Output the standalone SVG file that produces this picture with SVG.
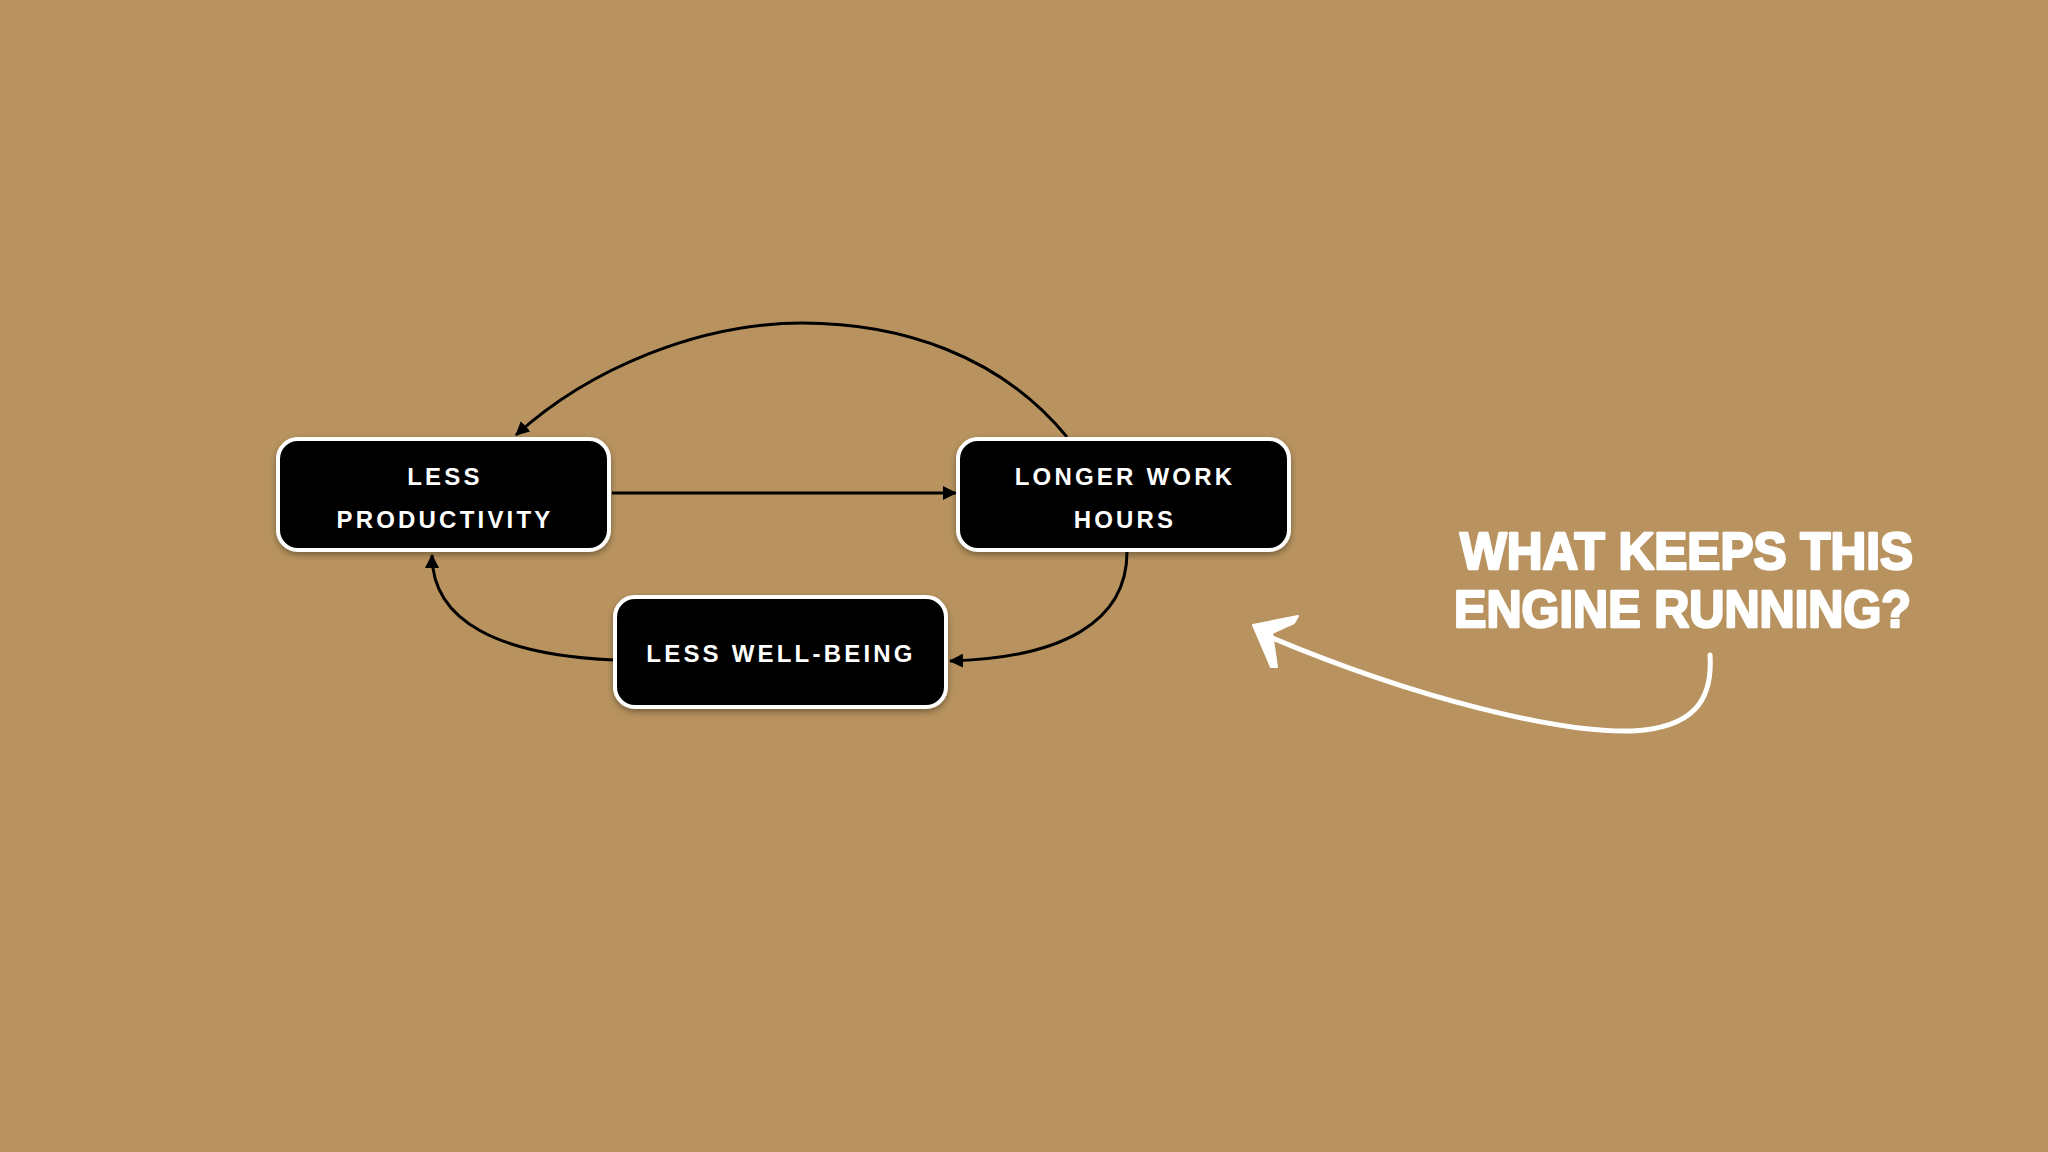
<svg xmlns="http://www.w3.org/2000/svg" width="2048" height="1152" viewBox="0 0 2048 1152">
<defs>
<style>
.box{fill:#000;stroke:#fff;stroke-width:4}
.lbl{font-family:"Liberation Sans",Arial,sans-serif;font-weight:bold;font-size:24px;fill:#fff;text-anchor:middle;letter-spacing:3.2px}
.con{fill:none;stroke:#000;stroke-width:3}
.q{font-family:"Liberation Sans",Arial,sans-serif;font-weight:bold;font-size:52px;fill:#fff;stroke:#fff;stroke-width:2.5;stroke-linejoin:round}
</style>
<marker id="ah" markerWidth="14" markerHeight="14" viewBox="0 0 14 14" refX="13" refY="7" orient="auto" markerUnits="userSpaceOnUse">
<path d="M0,0 L14,7 L0,14 Z" fill="#000"/>
</marker>
<filter id="sh" x="-10%" y="-10%" width="120%" height="130%">
<feDropShadow dx="0" dy="3" stdDeviation="3" flood-color="#000" flood-opacity="0.35"/>
</filter>
</defs>
<rect width="2048" height="1152" fill="#b8935f"/>
<g id="connectors">
<path class="con" d="M1067,437 C1000,355 900,323 802,323 C700,323 590,368 516,435" marker-end="url(#ah)"/>
<path class="con" d="M612,493 L956,493" marker-end="url(#ah)"/>
<path class="con" d="M1127,552 C1127,622 1062,658 950,661" marker-end="url(#ah)"/>
<path class="con" d="M614,660 C500,655 432,622 432,555" marker-end="url(#ah)"/>
</g>
<g id="node-less-productivity">
<rect class="box" x="278" y="439" width="331" height="111" rx="20" filter="url(#sh)"/>
<text class="lbl" x="445" y="485">LESS</text>
<text class="lbl" x="445" y="528">PRODUCTIVITY</text>
</g>
<g id="node-longer-work-hours">
<rect class="box" x="958" y="439" width="331" height="111" rx="20" filter="url(#sh)"/>
<text class="lbl" x="1125" y="485">LONGER WORK</text>
<text class="lbl" x="1125" y="528">HOURS</text>
</g>
<g id="node-less-well-being">
<rect class="box" x="615" y="597" width="331" height="110" rx="20" filter="url(#sh)"/>
<text class="lbl" x="781" y="662">LESS WELL-BEING</text>
</g>
<g id="question">
<text class="q" x="1460" y="569" textLength="453" lengthAdjust="spacingAndGlyphs">WHAT KEEPS THIS</text>
<text class="q" x="1454" y="627" textLength="457" lengthAdjust="spacingAndGlyphs">ENGINE RUNNING?</text>
<path d="M1710,655 C1713,702 1692,728 1632,731 C1560,733 1420,700 1270,637" fill="none" stroke="#fff" stroke-width="5" stroke-linecap="round"/>
<path d="M1253,625 L1298,616 L1294,623 L1272,633 L1277,667 L1271,667 Z" fill="#fff" stroke="#fff" stroke-width="2" stroke-linejoin="round"/>
</g>
</svg>
